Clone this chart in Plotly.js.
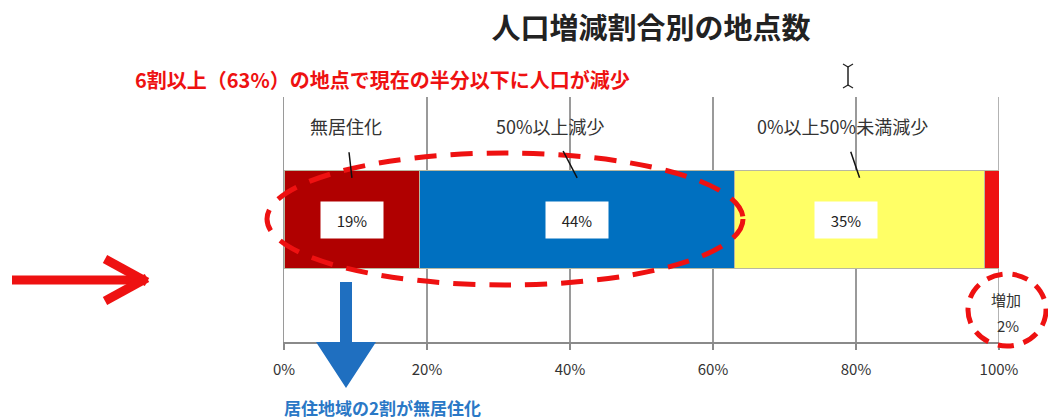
<!DOCTYPE html>
<html>
<head>
<meta charset="utf-8">
<script src="https://cdn.plot.ly/plotly-3.0.1.min.js"></script>
<style>html,body{margin:0;padding:0;background:#fff;}#chart{width:1048px;height:419px;}</style>
</head>
<body>
<div id="chart"></div>
<script>
// ---- data ----
const categories = ['無居住化', '50%以上減少', '0%以上50%未満減少', '増加'];
const shares = [19, 44, 35, 2];
const barColors = ['#b00000', '#0070c0', '#ffff66', '#ee1111'];
const tickVals = [0, 20, 40, 60, 80, 100];
const tickLabels = ['0%', '20%', '40%', '60%', '80%', '100%'];
const chartTitle = '人口増減割合別の地点数';
const noteRed = '6割以上（63%）の地点で現在の半分以下に人口が減少';
const noteBlue = '居住地域の2割が無居住化';

// ---- layout helpers ----
const PL = 284, PR = 999, PT = 97, PB = 342, W = 1048, H = 419;
const X = px => (px - PL) / (PR - PL);
const Y = py => (PB - py) / (PB - PT);
const FONT = '"Noto Sans CJK JP", "Noto Sans", sans-serif';

const starts = [];
let acc = 0;
shares.forEach(v => { starts.push(acc); acc += v; });

const traces = categories.map((c, i) => ({
  type: 'bar', orientation: 'h', name: c,
  y: [0], x: [shares[i]], width: 0.4,
  marker: { color: barColors[i], line: { color: '#b8b8a0', width: 1 } },
  hoverinfo: 'skip', showlegend: false
}));

const annotations = [];
// data labels (white boxes)
const boxShift = [0, 0, -14];
for (let i = 0; i < 3; i++) {
  annotations.push({
    x: starts[i] + shares[i] / 2, y: 0, xref: 'x', yref: 'y',
    xanchor: 'center', yanchor: 'middle',
    text: shares[i] + '%', showarrow: false, bgcolor: '#ffffff',
    width: 60, height: 34, xshift: boxShift[i],
    font: { family: FONT, size: 15, color: '#222' }
  });
}
// category labels with leader lines
const labelPx = [346, 550, 842];
for (let i = 0; i < 3; i++) {
  const cx = starts[i] + shares[i] / 2;
  const cpx = PL + cx / 100 * (PR - PL);
  annotations.push({
    x: cx, y: 0.17, xref: 'x', yref: 'y',
    text: categories[i], showarrow: true, arrowhead: 0, arrowwidth: 1.5,
    arrowcolor: '#111', ax: labelPx[i] - cpx, ay: -52, startstandoff: 12,
    font: { family: FONT, size: 18, color: '#333' }
  });
}
// increase label
annotations.push({
  x: X(1006), y: Y(299), xref: 'paper', yref: 'paper', xanchor: 'center', yanchor: 'middle',
  text: categories[3], showarrow: false, font: { family: FONT, size: 15, color: '#333' }
});
annotations.push({
  x: X(1008), y: Y(325), xref: 'paper', yref: 'paper', xanchor: 'center', yanchor: 'middle',
  text: shares[3] + '%', showarrow: false, font: { family: FONT, size: 15, color: '#333' }
});
// red note
annotations.push({
  x: X(133), y: Y(79), xref: 'paper', yref: 'paper', xanchor: 'left', yanchor: 'middle',
  text: '<b>' + noteRed + '</b>', showarrow: false,
  font: { family: FONT, size: 20, color: '#ee1111' }
});
// blue note
annotations.push({
  x: X(282), y: Y(407), xref: 'paper', yref: 'paper', xanchor: 'left', yanchor: 'middle',
  text: '<b>' + noteBlue + '</b>', showarrow: false,
  font: { family: FONT, size: 17, color: '#2a78c6' }
});

const line = (x0, y0, x1, y1, color, width) => ({
  type: 'line', xref: 'paper', yref: 'paper',
  x0: X(x0), y0: Y(y0), x1: X(x1), y1: Y(y1),
  line: { color, width }
});

const shapes = [
  // right-edge gridline at 100%
  { type: 'line', xref: 'x', yref: 'paper', x0: 100, x1: 100, y0: 0, y1: 1,
    layer: 'below', line: { color: '#9a9a9a', width: 1.5 } },
  // big dashed ellipse
  { type: 'circle', xref: 'paper', yref: 'paper',
    x0: X(267), x1: X(743), y0: Y(285), y1: Y(153),
    line: { color: '#ee1111', width: 5, dash: '22px,14px' } },
  // small dashed ellipse
  { type: 'circle', xref: 'paper', yref: 'paper',
    x0: X(968), x1: X(1046), y0: Y(346), y1: Y(274),
    line: { color: '#ee1111', width: 5, dash: '16px,10px' } },
  // red arrow
  line(12, 280, 142, 280, '#ee1111', 9),
  line(105, 259, 147, 282, '#ee1111', 9),
  line(105, 301, 147, 278, '#ee1111', 9),
  // blue arrow
  { type: 'path', xref: 'paper', yref: 'paper',
    path: `M${X(340)},${Y(282)} L${X(352)},${Y(282)} L${X(352)},${Y(342)} L${X(376)},${Y(342)} L${X(346)},${Y(388)} L${X(316)},${Y(342)} L${X(340)},${Y(342)} Z`,
    fillcolor: '#1f6fc0', line: { width: 0 } },
  // text cursor
  line(848, 66, 848, 86, '#222', 1.5),
  line(843, 64, 848, 67, '#222', 1.2),
  line(853, 64, 848, 67, '#222', 1.2),
  line(843, 88, 848, 85, '#222', 1.2),
  line(853, 88, 848, 85, '#222', 1.2)
];

const layout = {
  width: W, height: H,
  margin: { l: PL, r: W - PR, t: PT, b: H - PB },
  paper_bgcolor: '#ffffff', plot_bgcolor: '#ffffff',
  barmode: 'stack',
  title: { text: chartTitle, x: 651 / W, xanchor: 'center', y: 1 - 29 / H, yanchor: 'middle',
    font: { family: FONT, size: 29, color: '#222', weight: 'bold' } },
  xaxis: {
    range: [0, 100], tickvals: tickVals, ticktext: tickLabels,
    showgrid: true, gridcolor: '#9a9a9a', gridwidth: 1.5, zeroline: false,
    showline: true, linecolor: '#8a8a8a', linewidth: 2,
    ticks: 'outside', ticklen: 6, tickcolor: '#8a8a8a', tickwidth: 1.5,
    ticklabelstandoff: 7,
    tickfont: { family: FONT, size: 15, color: '#333' }, fixedrange: true
  },
  yaxis: { range: [-0.5, 0.5], showticklabels: false, showgrid: false, zeroline: false,
    showline: true, linecolor: '#9a9a9a', linewidth: 1.5, ticks: '', fixedrange: true },
  annotations, shapes, hovermode: false
};

Plotly.newPlot('chart', traces, layout, { staticPlot: true, displayModeBar: false });
</script>
</body>
</html>
